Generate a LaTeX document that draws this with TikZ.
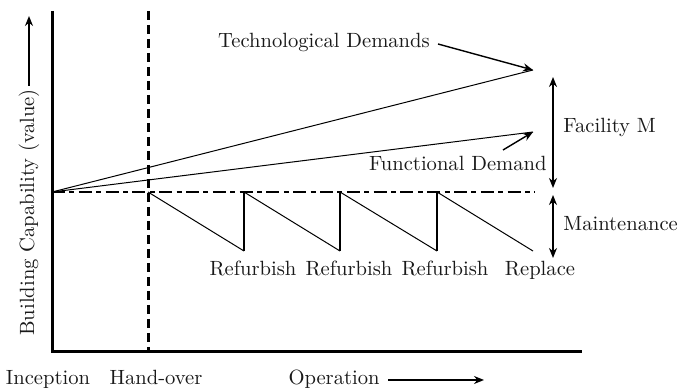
\documentclass[tikz,border=0pt]{standalone}
\usetikzlibrary{arrows.meta}
\begin{document}
\begin{tikzpicture}[x=0.5pt,y=-0.5pt,
  lbl/.style={font=\fontsize{10.3}{12}\selectfont, inner sep=0pt, text=black!90},
  thin line/.style={line width=0.5pt},
  axis/.style={line width=1.5pt},
  tip/.style={-{Stealth[length=5pt,width=4pt]}},
  dtip/.style={{Stealth[length=5pt,width=4pt]}-{Stealth[length=5pt,width=4pt]}, line width=0.9pt}]
\useasboundingbox (0,0) rectangle (680,389);
% axes
\coordinate (O) at (52,352);
\coordinate (Ytop) at (52,11);
\coordinate (Xend) at (582,352);
\draw[axis] (Ytop) -- (O) -- (Xend);
% hand-over line
\coordinate (Htop) at (148,11);
\coordinate (Hbot) at (148,352);
\draw[line width=1.5pt, dash pattern=on 4.5pt off 2.5pt] (Htop) -- (Hbot);
% baseline dash-dot
\coordinate (B0) at (52,192);
\coordinate (B1) at (535,192);
\draw[line width=1pt, dash pattern=on 6.5pt off 2.2pt on 2.5pt off 2.2pt] (B0) -- (B1);
% demand lines
\coordinate (T1) at (533,70);
\coordinate (F1) at (533,132);
\draw[thin line] (B0) -- (T1);
\draw[thin line] (B0) -- (F1);
% sawtooth
\coordinate (S0) at (148,192);
\coordinate (S1b) at (244,251); \coordinate (S1t) at (244,192);
\coordinate (S2b) at (340,251); \coordinate (S2t) at (340,192);
\coordinate (S3b) at (437,251); \coordinate (S3t) at (437,192);
\coordinate (S4b) at (533,251);
\draw[thin line] (S0) -- (S1b);
\draw[line width=0.8pt] (S1b) -- (S1t);
\draw[thin line] (S1t) -- (S2b);
\draw[line width=0.8pt] (S2b) -- (S2t);
\draw[thin line] (S2t) -- (S3b);
\draw[line width=0.8pt] (S3b) -- (S3t);
\draw[thin line] (S3t) -- (S4b);
% labels
\node[lbl, anchor=base] (tech) at (324,48) {Technological Demands};
\node[lbl, anchor=base east] (func) at (547,171) {Functional Demand};
\coordinate (ta) at (438,44);
\draw[tip, line width=0.7pt] (ta) -- (T1);
\coordinate (fa) at (503,150);
\draw[tip, line width=0.7pt] (fa) -- (F1);
% Facility M and Maintenance
\coordinate (M1) at (553,77);
\coordinate (M2) at (553,188);
\coordinate (M3) at (553,195);
\coordinate (M4) at (553,258);
\draw[dtip] (M1) -- (M2);
\draw[dtip] (M3) -- (M4);
\node[lbl, anchor=base west] (fac) at (563,133) {Facility M};
\node[lbl, anchor=base west] (mnt) at (563,231) {Maintenance};
% refurbish labels
\node[lbl, anchor=base] (r1) at (253,276) {Refurbish};
\node[lbl, anchor=base] (r2) at (349,276) {Refurbish};
\node[lbl, anchor=base] (r3) at (445,276) {Refurbish};
\node[lbl, anchor=base] (r4) at (540,276) {Replace};
% bottom labels
\node[lbl, anchor=base] (inc) at (48,385) {Inception};
\node[lbl, anchor=base] (hand) at (156,385) {Hand-over};
\node[lbl, anchor=base east] (op) at (380,385) {Operation};
\coordinate (opS) at (388,380);
\coordinate (opEnd) at (484,380);
\draw[tip, line width=0.8pt] (opS) -- (opEnd);
% y label
\node[lbl, rotate=90, anchor=base west] (ylab) at (34,336) {Building Capability (value)};
\coordinate (yS) at (29,86);
\coordinate (yEnd) at (29,16);
\draw[tip, line width=0.8pt] (yS) -- (yEnd);
\end{tikzpicture}
\end{document}
